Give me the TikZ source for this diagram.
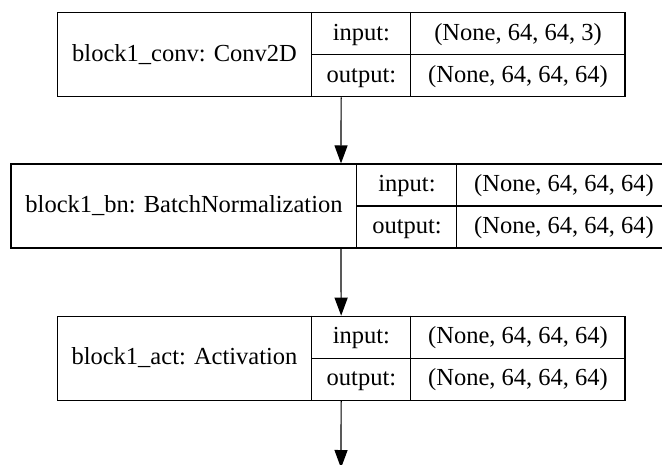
\documentclass[tikz,border=0pt]{standalone}
\usepackage{fontspec}
\setmainfont{Liberation Serif}
\usetikzlibrary{arrows.meta}
\begin{document}
\begin{tikzpicture}[x=1pt,y=-1pt,
  box/.style={draw, line width=1.2pt, rectangle, inner sep=0pt, minimum height=84pt},
  sepline/.style={line width=1.2pt},
  txt/.style={inner sep=0pt, font=\fontsize{24.5}{28}\selectfont, text height=17pt, text depth=4.4pt},
  conn/.style={line width=1.2pt, -{Triangle[length=18pt,width=13pt]}}]
\useasboundingbox (0,0) rectangle (662,464);
\clip (0,0) rectangle (662,464);
% box 1
\node[box, minimum width=567.7pt] (conv) at (341.15,54.7) {};
\draw[sepline] ([xshift=254.4pt]conv.north west) -- ([xshift=254.4pt]conv.south west);
\draw[sepline] ([xshift=353.7pt]conv.north west) -- ([xshift=353.7pt]conv.south west);
\draw[sepline] ([xshift=254.4pt]conv.west) -- (conv.east);
\node[txt] (convname) at (184.5,54.7) {block1\_conv: Conv2D};
\node[txt] (convin) at (361.4,33.7) {input:};
\node[txt] (convout) at (361.4,75.7) {output:};
\node[txt] (convinv) at (518,33.7) {(None, 64, 64, 3)};
\node[txt] (convoutv) at (518,75.7) {(None, 64, 64, 64)};
% box 2
\node[box, minimum width=660pt] (bn) at (341,206) {};
\draw[sepline] ([xshift=346pt]bn.north west) -- ([xshift=346pt]bn.south west);
\draw[sepline] ([xshift=446pt]bn.north west) -- ([xshift=446pt]bn.south west);
\draw[sepline] ([xshift=346pt]bn.west) -- (bn.east);
\node[txt] (bnname) at (184,206) {block1\_bn: BatchNormalization};
\node[txt] (bnin) at (407,185) {input:};
\node[txt] (bnout) at (407,227) {output:};
\node[txt] (bninv) at (564,185) {(None, 64, 64, 64)};
\node[txt] (bnoutv) at (564,227) {(None, 64, 64, 64)};
% box 3
\node[box, minimum width=567.7pt] (act) at (341.15,358.3) {};
\draw[sepline] ([xshift=254.4pt]act.north west) -- ([xshift=254.4pt]act.south west);
\draw[sepline] ([xshift=353.7pt]act.north west) -- ([xshift=353.7pt]act.south west);
\draw[sepline] ([xshift=254.4pt]act.west) -- (act.east);
\node[txt] (actname) at (184.5,358.3) {block1\_act: Activation};
\node[txt] (actin) at (361.4,337.3) {input:};
\node[txt] (actout) at (361.4,379.3) {output:};
\node[txt] (actinv) at (518,337.3) {(None, 64, 64, 64)};
\node[txt] (actoutv) at (518,379.3) {(None, 64, 64, 64)};
% connectors
\coordinate (tail) at (341,468);
\draw[conn] (conv.south) -- (bn.north);
\draw[conn] (bn.south) -- (act.north);
\draw[conn] (act.south) -- (tail);
\end{tikzpicture}
\end{document}
